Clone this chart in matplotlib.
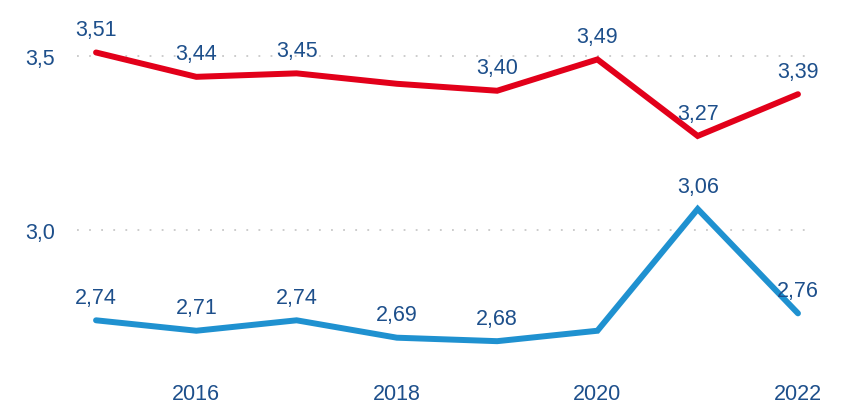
import matplotlib

matplotlib.use("Agg")

import matplotlib.pyplot as plt

YEARS = [2015, 2016, 2017, 2018, 2019, 2020, 2021, 2022]
RED_VALUES = [3.51, 3.44, 3.45, 3.42, 3.40, 3.49, 3.27, 3.39]
RED_LABELS = ["3,51", "3,44", "3,45", None, "3,40", "3,49", "3,27", "3,39"]
BLUE_VALUES = [2.74, 2.71, 2.74, 2.69, 2.68, 2.71, 3.06, 2.76]
BLUE_LABELS = ["2,74", "2,71", "2,74", "2,69", "2,68", None, "3,06", "2,76"]
X_TICKS = [2016, 2018, 2020, 2022]
Y_TICKS = [3.0, 3.5]
Y_TICK_LABELS = ["3,0", "3,5"]

RED = "#E2001A"
BLUE = "#1F91D0"
TEXT = "#1D4F8B"

plt.rcParams["font.family"] = ["Liberation Sans", "DejaVu Sans"]

fig = plt.figure(figsize=(8.43, 4.06), dpi=100)
ax = fig.add_axes([77 / 843, 36 / 406, (812 - 77) / 843, 360 / 406])

for values, labels, color in [(RED_VALUES, RED_LABELS, RED), (BLUE_VALUES, BLUE_LABELS, BLUE)]:
    ax.plot(YEARS, values, color=color, linewidth=4.3, solid_capstyle="round", solid_joinstyle="miter", zorder=3)
    for x, y, lab in zip(YEARS, values, labels):
        if lab is None:
            continue
        ax.annotate(lab, (x, y), xytext=(0, 16.5), textcoords="offset points",
                    ha="center", va="center", fontsize=15.5, color=TEXT, zorder=4)

ax.set_xlim(2014.81, 2022.14)
ax.set_ylim(2.6, 3.635)
ax.set_xticks(X_TICKS)
ax.set_xticklabels([str(t) for t in X_TICKS])
ax.set_yticks(Y_TICKS)
ax.set_yticklabels(Y_TICK_LABELS)
ax.tick_params(axis="both", length=0, labelsize=15.5, labelcolor=TEXT)
ax.tick_params(axis="y", pad=16)
ax.tick_params(axis="x", pad=10)
ax.grid(axis="y", color="#C8C8C8", linestyle=(0, (1, 5.7)), linewidth=1.3)
for spine in ax.spines.values():
    spine.set_visible(False)

fig.savefig("out.png", dpi=100)
